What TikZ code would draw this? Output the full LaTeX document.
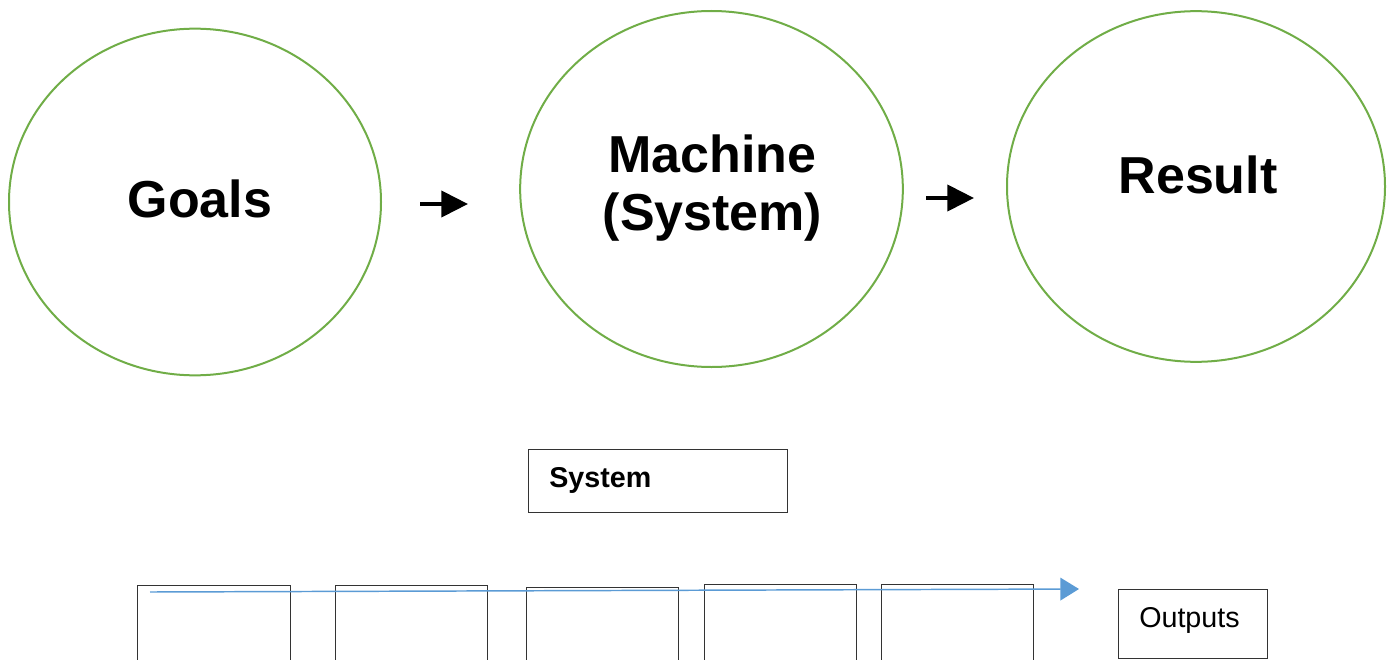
\documentclass[tikz,border=0pt]{standalone}
\usepackage{fontspec}
\setmainfont{Liberation Sans}
\usetikzlibrary{shapes.geometric,arrows.meta}
\definecolor{ringgreen}{HTML}{70AD47}
\definecolor{flowblue}{HTML}{5B9BD5}
\tikzset{
  ring/.style={ellipse, draw=ringgreen, line width=1.5pt, inner sep=0pt},
  bigtxt/.style={font=\fontsize{39}{43}\selectfont\bfseries, anchor=base, inner sep=0pt},
  blackarrow/.style={line width=3pt, -{Triangle[length=20pt,width=19.5pt]}},
  boxed/.style={draw=black!80, line width=1pt, inner sep=0pt, anchor=north west},
  flow/.style={draw=flowblue, line width=1.1pt, -{Triangle[length=14pt,width=17pt]}}
}
\begin{document}
\begin{tikzpicture}[x=0.75pt,y=-0.75pt]
\useasboundingbox (0,0) rectangle (1392,660);
\clip (0,0) rectangle (1392,660);
% ellipses
\node[ring, minimum width=279pt, minimum height=260pt] (goals) at (195,202) {};
\node[ring, minimum width=287pt, minimum height=267pt] (machine) at (711.5,189) {};
\node[ring, minimum width=283.5pt, minimum height=263pt] (result) at (1196,186.5) {};
% texts
\node[bigtxt] (goalst) at (200,217) {Goals};
\node[bigtxt] (machinet) at (712.5,172) {Machine};
\node[bigtxt] (systemt) at (712.5,230) {(System)};
\node[bigtxt] (resultt) at (1198,193) {Result};
% black arrows
\coordinate (a1s) at (420,204);
\coordinate (a1e) at (468,204);
\coordinate (a2s) at (926,198);
\coordinate (a2e) at (974,198);
\draw[blackarrow] (a1s) -- (a1e);
\draw[blackarrow] (a2s) -- (a2e);
% system box
\node[boxed, minimum width=194.25pt, minimum height=47.25pt] (sysbox) at (528,449) {};
\node[font=\fontsize{21.5}{24}\selectfont\bfseries, anchor=base west, inner sep=0pt] (syslbl) at (549,487) {System};
% bottom boxes
\node[boxed, minimum width=114.75pt, minimum height=80pt] (b1) at (137,585) {};
\node[boxed, minimum width=114pt, minimum height=80pt] (b2) at (335,585) {};
\node[boxed, minimum width=114pt, minimum height=80pt] (b3) at (526,587) {};
\node[boxed, minimum width=114pt, minimum height=80pt] (b4) at (704,584) {};
\node[boxed, minimum width=114pt, minimum height=80pt] (b5) at (881,584) {};
% outputs box
\node[boxed, minimum width=111.75pt, minimum height=51.75pt] (outbox) at (1118,589) {};
\node[font=\fontsize{21.5}{24}\selectfont, anchor=base west, inner sep=0pt] (outlbl) at (1139,627) {Outputs};
% blue flow arrow
\coordinate (fs) at (150,592);
\coordinate (fe) at (1079,589);
\draw[flow] (fs) -- (fe);
\end{tikzpicture}
\end{document}
